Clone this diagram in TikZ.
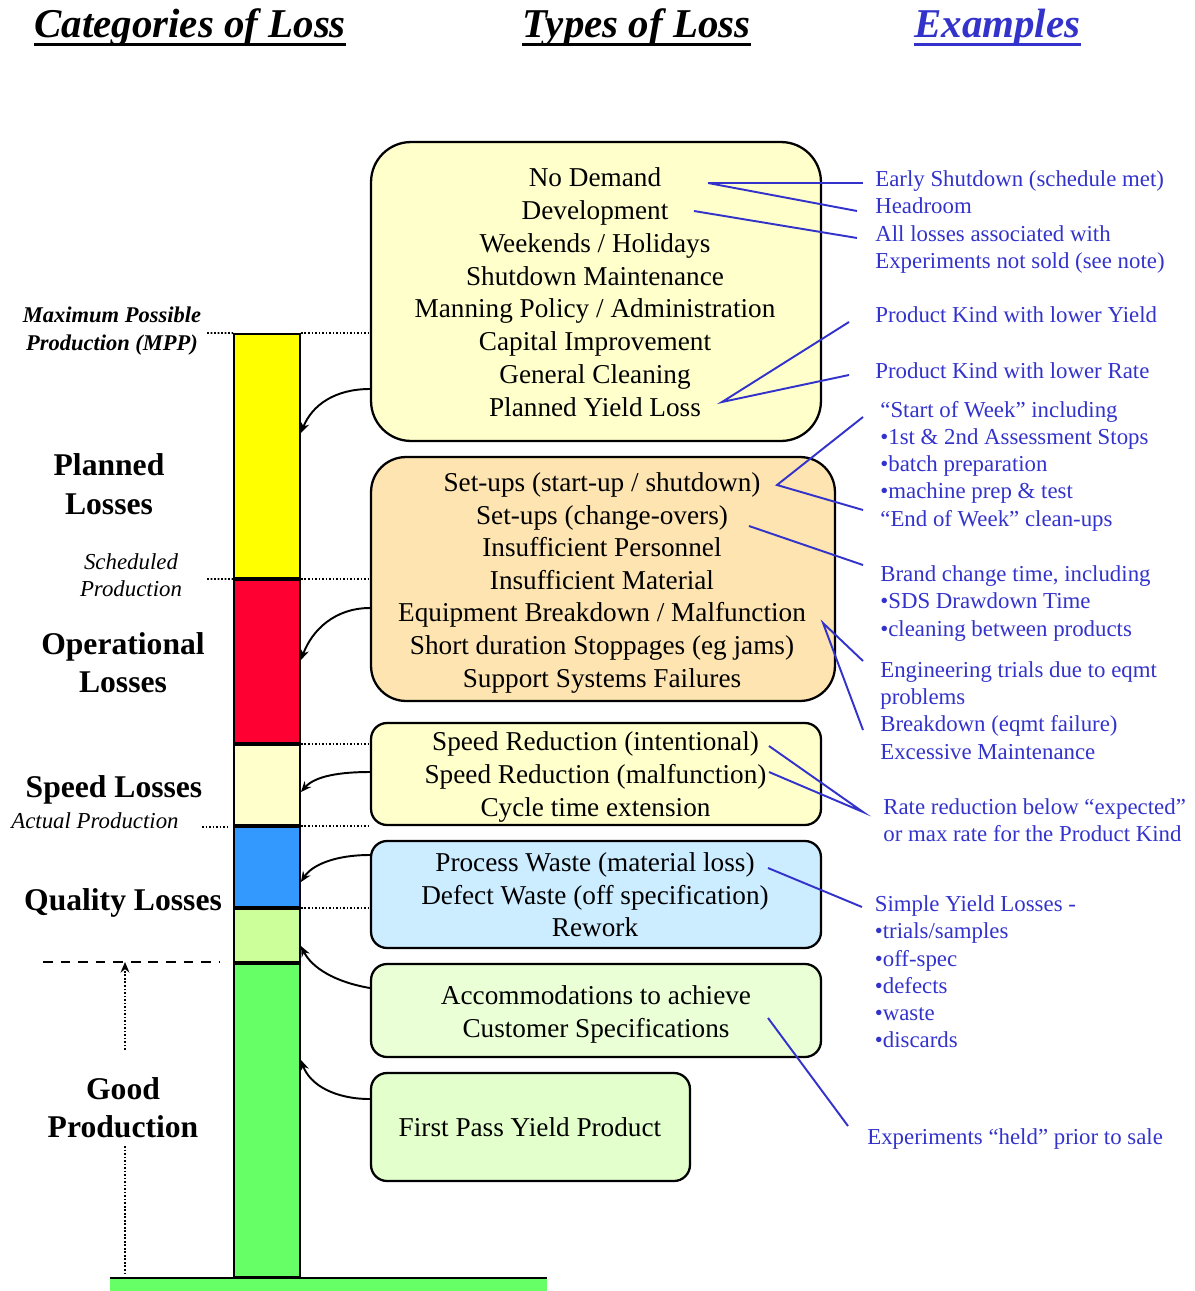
\documentclass[tikz,border=0pt]{standalone}
\usepackage{fontspec}
\setmainfont{Liberation Serif}
\usetikzlibrary{arrows.meta}

\definecolor{exblue}{RGB}{51,51,204}
\definecolor{planyellow}{RGB}{255,255,0}
\definecolor{opred}{RGB}{255,0,51}
\definecolor{speedcream}{RGB}{255,255,204}
\definecolor{qualblue}{RGB}{51,153,255}
\definecolor{reworkgreen}{RGB}{204,255,153}
\definecolor{goodgreen}{RGB}{102,255,102}
\definecolor{planfill}{RGB}{255,255,204}
\definecolor{opfill}{RGB}{253,228,176}
\definecolor{qualfill}{RGB}{204,236,255}
\definecolor{accfill}{RGB}{234,255,214}
\definecolor{fpyfill}{RGB}{226,255,204}

\begin{document}
\begin{tikzpicture}[x=0.02cm, y=-0.02cm, >={Stealth[length=6pt,width=5pt]},
  seg/.style={draw, line width=1.1pt, minimum width=1.32cm, inner sep=0pt},
  lossbox/.style={draw, line width=1.3pt, inner sep=0pt},
  boxtext/.style={anchor=base, inner sep=0pt, font=\fontsize{15.5}{18.6}\selectfont},
  extext/.style={anchor=base west, inner sep=0pt, align=left, text=exblue,
    font=\fontsize{13}{15.5}\selectfont},
  exline/.style={exblue, line width=1.1pt},
  feed/.style={->, line width=1.1pt},
  level/.style={line width=1pt, dash pattern=on 1pt off 1pt},
  cat/.style={anchor=base, inner sep=0pt, align=center,
    font=\fontsize{18}{21.7}\selectfont\bfseries},
  subcat/.style={anchor=base, inner sep=0pt, align=center,
    font=\fontsize{13}{15.1}\selectfont\itshape},
  head/.style={anchor=base west, inner sep=0pt,
    font=\fontsize{23.3}{28}\selectfont\bfseries\itshape}]

\useasboundingbox (0,0) rectangle (1194,1291);

% Column headings
\node[head] (hCat) at (34,38) {Categories of Loss};
\node[head] (hTyp) at (522,38) {Types of Loss};
\node[head, text=exblue] (hEx) at (914,38) {Examples};
\draw[line width=1.7pt] ([yshift=-3.5pt]hCat.base west) -- ([yshift=-3.5pt]hCat.base east);
\draw[line width=1.7pt] ([yshift=-3.5pt]hTyp.base west) -- ([yshift=-3.5pt]hTyp.base east);
\draw[exblue, line width=1.7pt] ([yshift=-3.5pt]hEx.base west) -- ([yshift=-3.5pt]hEx.base east);

% Production bar
\node[seg, fill=planyellow, minimum height=4.88cm] (sPL) at (267,456) {};
\node[seg, fill=opred, minimum height=3.26cm] (sOP) at (267,661.5) {};
\node[seg, fill=speedcream, minimum height=1.6cm] (sSP) at (267,785) {};
\node[seg, fill=qualblue, minimum height=1.6cm] (sQL) at (267,867) {};
\node[seg, fill=reworkgreen, minimum height=1.06cm] (sRW) at (267,935.5) {};
\node[seg, fill=goodgreen, minimum height=6.26cm] (sGP) at (267,1120.5) {};

% Ground
\fill[goodgreen] (110,1279) rectangle (547,1291);
\draw[line width=1.2pt] (110,1278) -- (547,1278);

% Loss type boxes
\node[lossbox, fill=planfill, rounded corners=0.8cm, minimum width=9cm, minimum height=5.98cm] (b1) at (596,291.5) {};
\node[lossbox, fill=opfill, rounded corners=0.7cm, minimum width=9.28cm, minimum height=4.88cm] (b2) at (603,579) {};
\node[lossbox, fill=planfill, rounded corners=0.32cm, minimum width=9cm, minimum height=2.04cm] (b3) at (596,774) {};
\node[lossbox, fill=qualfill, rounded corners=0.32cm, minimum width=9cm, minimum height=2.14cm] (b4) at (596,894.5) {};
\node[lossbox, fill=accfill, rounded corners=0.32cm, minimum width=9cm, minimum height=1.86cm] (b5) at (596,1010.5) {};
\node[lossbox, fill=fpyfill, rounded corners=0.32cm, minimum width=6.38cm, minimum height=2.16cm] (b6) at (530.5,1127) {};

\foreach \txt [count=\i] in {No Demand, Development, Weekends / Holidays, Shutdown Maintenance,
    Manning Policy / Administration, Capital Improvement, General Cleaning, Planned Yield Loss}
  \node[boxtext] (pl\i) at (595,{186.7+32.8*(\i-1)}) {\txt};
\foreach \txt [count=\i] in {Set-ups (start-up / shutdown), Set-ups (change-overs), Insufficient Personnel,
    Insufficient Material, Equipment Breakdown / Malfunction, Short duration Stoppages (eg jams),
    Support Systems Failures}
  \node[boxtext] (op\i) at (602,{491.7+32.55*(\i-1)}) {\txt};
\foreach \txt [count=\i] in {Speed Reduction (intentional), Speed Reduction (malfunction), Cycle time extension}
  \node[boxtext] (sp\i) at (595.5,{750+33*(\i-1)}) {\txt};
\foreach \txt [count=\i] in {Process Waste (material loss), Defect Waste (off specification), Rework}
  \node[boxtext] (ql\i) at (595,{871.7+32.5*(\i-1)}) {\txt};
\node[boxtext] (acc1) at (596,1004) {Accommodations to achieve};
\node[boxtext] (acc2) at (596,1037.3) {Customer Specifications};
\node[boxtext] (fpy) at (530,1136.7) {First Pass Yield Product};

% Level lines
\draw[level] (207,333) -- (sPL.north west);
\draw[level] (sPL.north east) -- (b1.west |- sPL.north east);
\draw[level] (207,579) -- (sPL.south west);
\draw[level] (sPL.south east) -- (b2.west |- sPL.south east);
\draw[level] (sOP.south east) -- (b3.west |- sOP.south east);
\draw[level] (202,827) -- (227,827);
\draw[level] (sSP.south east) -- (b3.west |- sSP.south east);
\draw[level] (sQL.south east) -- (b4.west |- sQL.south east);
\draw[line width=1.1pt, dash pattern=on 5.5pt off 4.5pt] (43,962) -- (220,962);
\draw[level, ->] (125,1050) -- (125,962);
\draw[level] (125,1146) -- (125,1275);

% Feeds into the bar
\draw[feed] (b1.west |- 0,389) .. controls (335,389) and (312,405) .. (sPL.east |- 0,433);
\draw[feed] (b2.west |- 0,608) .. controls (335,608) and (312,630) .. (sOP.east |- 0,660);
\draw[feed] (b3.west |- 0,772) .. controls (340,772) and (315,776) .. (sSP.east |- 0,792);
\draw[feed] (b4.west |- 0,855) .. controls (335,855) and (312,865) .. (sQL.east |- 0,882);
\draw[feed] (b5.west |- 0,988) .. controls (335,982) and (312,968) .. (sRW.east |- 0,946);
\draw[feed] (b6.west |- 0,1099) .. controls (335,1099) and (310,1085) .. (sGP.east |- 0,1060);

% Categories (multi-line nodes sit on their last baseline)
\node[anchor=base, inner sep=0pt, align=center, font=\fontsize{12.8}{15.7}\selectfont\bfseries\itshape]
  (mpp) at (112,350) {Maximum Possible\\Production (MPP)};
\node[cat] (cPL) at (109,514) {Planned\\Losses};
\node[subcat] (lSch) at (131,596) {Scheduled\\Production};
\node[cat] (cOP) at (123,692.7) {Operational\\Losses};
\node[cat] (cSP) at (114,797) {Speed Losses};
\node[subcat] (lAct) at (95,828) {Actual Production};
\node[cat] (cQL) at (123,910) {Quality Losses};
\node[cat] (cGP) at (123,1137.3) {Good\\Production};

% Examples
\node[extext] (ex1) at (875,268.3) {Early Shutdown (schedule met)\\Headroom\\All losses associated with\\Experiments not sold (see note)};
\node[extext] (ex2) at (875,322.7) {Product Kind with lower Yield};
\node[extext] (ex3) at (875,378.3) {Product Kind with lower Rate};
\node[extext] (ex4) at (880,526) {“Start of Week” including\\•1st \& 2nd Assessment Stops\\•batch preparation\\•machine prep \& test\\“End of Week” clean-ups};
\node[extext] (ex5) at (880,636) {Brand change time, including\\•SDS Drawdown Time\\•cleaning between products};
\node[extext] (ex6) at (880,759) {Engineering trials due to eqmt\\problems\\Breakdown (eqmt failure)\\Excessive Maintenance};
\node[extext] (ex7) at (883,841.7) {Rate reduction below “expected”\\or max rate for the Product Kind};
\node[extext] (ex8) at (874.5,1047.7) {Simple Yield Losses -\\•trials/samples\\•off-spec\\•defects\\•waste\\•discards};
\node[extext] (ex9) at (867,1144) {Experiments “held” prior to sale};

% Leader lines to examples
\coordinate (c-nd) at (708,183);
\coordinate (c-dev) at (694,211);
\coordinate (c-pyl) at (722,402);
\coordinate (c-su) at (777,485);
\coordinate (c-co) at (749,526);
\coordinate (c-eb) at (823,623);
\coordinate (c-si) at (769,746);
\coordinate (c-sm) at (769,772);
\coordinate (c-pw) at (768,868);
\coordinate (c-acc) at (768,1018);
\coordinate (e-es) at (863,183);
\coordinate (e-hr) at (857,211);
\coordinate (e-al) at (857,238);
\coordinate (e-py) at (849,322);
\coordinate (e-pr) at (849,375);
\coordinate (e-sw) at (863,417);
\coordinate (e-ew) at (863,510);
\coordinate (e-bc) at (863,565);
\coordinate (e-et) at (863,661);
\coordinate (e-bd) at (863,730);
\coordinate (e-rr) at (863,812);
\coordinate (e-sy) at (862,907);
\coordinate (e-eh) at (848,1126);
\draw[exline] (c-nd) -- (e-es);
\draw[exline] (c-nd) -- (e-hr);
\draw[exline] (c-dev) -- (e-al);
\draw[exline] (e-py) -- (c-pyl) -- (e-pr);
\draw[exline] (e-sw) -- (c-su) -- (e-ew);
\draw[exline] (c-co) -- (e-bc);
\draw[exline] (e-et) -- (c-eb) -- (e-bd);
\draw[exline] (c-si) -- (e-rr) -- (c-sm);
\draw[exline] (c-pw) -- (e-sy);
\draw[exline] (c-acc) -- (e-eh);

\end{tikzpicture}
\end{document}
